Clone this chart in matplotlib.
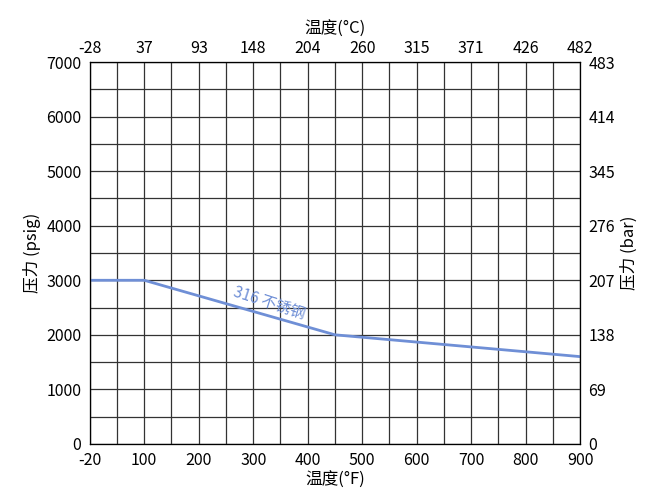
import matplotlib
matplotlib.use("Agg")
import matplotlib.pyplot as plt
import numpy as np

plt.rcParams["font.family"] = ["Noto Sans CJK SC", "DejaVu Sans"]

f_ticks = [-20, 100, 200, 300, 400, 500, 600, 700, 800, 900]
c_ticks = ["-28", "37", "93", "148", "204", "260", "315", "371", "426", "482"]
psig_ticks = [0, 1000, 2000, 3000, 4000, 5000, 6000, 7000]
bar_ticks = ["0", "69", "138", "207", "276", "345", "414", "483"]

line_f = [-20, 100, 450, 900]
line_psig = [3000, 3000, 2000, 1600]


def f_to_pos(f):
    # the -20..100 span takes the same width as each 100 °F step
    f = np.asarray(f, dtype=float)
    return np.where(f < 100, (f + 20) / 120.0, f / 100.0)


fig = plt.figure(figsize=(6.6, 5.01), dpi=100)
ax = fig.add_axes([0.136, 0.114, 0.743, 0.762])
ax.set_xlim(0, 9)
ax.set_ylim(0, 7000)
ax.set_xticks(np.arange(0, 9.01, 0.5), minor=True)
ax.set_yticks(np.arange(0, 7001, 500), minor=True)
ax.grid(True, which="both", color="#333333", linewidth=0.9)
ax.tick_params(which="both", length=0, labelsize=11.5, pad=6)
ax.set_xticks(range(10))
ax.set_xticklabels([str(v) for v in f_ticks])
ax.set_yticks(psig_ticks)
for s in ax.spines.values():
    s.set_color("#333333")

ax.plot(f_to_pos(line_f), line_psig, color="#6f8fd6", linewidth=2)
ax.text(3.3, 2580, "316 不锈钢", color="#6f8fd6", fontsize=11, style="italic",
        rotation=-18, ha="center", va="center")

ax.set_xlabel("温度(°F)", fontsize=12, labelpad=2)
ax.set_ylabel("压力 (psig)", fontsize=12)

top = ax.twiny()
top.set_xlim(0, 9)
top.set_xticks(range(10))
top.set_xticklabels(c_ticks)
top.tick_params(length=0, labelsize=11.5, pad=4)
top.set_xlabel("温度(°C)", fontsize=12, labelpad=4)

right = ax.twinx()
right.set_ylim(0, 7000)
right.set_yticks(psig_ticks)
right.set_yticklabels(bar_ticks)
right.tick_params(length=0, labelsize=11.5, pad=6)
right.set_ylabel("压力 (bar)", fontsize=12)

fig.savefig("out.png", dpi=100)
